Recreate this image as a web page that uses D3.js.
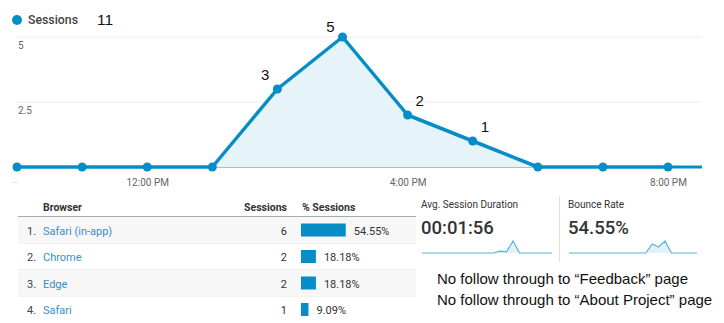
<!DOCTYPE html>
<html>
<head>
<meta charset="utf-8">
<script src="https://cdn.jsdelivr.net/npm/d3@7"></script>
<style>
  body { margin: 0; background: #fff; }
  svg { display: block; font-family: Roboto, "Open Sans", sans-serif; }
</style>
</head>
<body>
<div id="chart"></div>
<script>
// hourly sessions, 10 AM .. 8 PM
const hours = [10, 11, 12, 13, 14, 15, 16, 17, 18, 19, 20];
const sessions = [0, 0, 0, 0, 3, 5, 2, 1, 0, 0, 0];
const tickHours = [12, 16, 20];
const tickLabels = ['12:00 PM', '4:00 PM', '8:00 PM'];
const yTicks = [2.5, 5];

const browsers = ['Safari (in-app)', 'Chrome', 'Edge', 'Safari'];
const browserSessions = [6, 2, 2, 1];
const browserPct = [54.55, 18.18, 18.18, 9.09];

const durationSpark = [0, 0, 0, 0, 0, 0, 0, 0, 0, 0, 0, 0, 0.15, 0.1, 1, 0, 0, 0, 0, 0, 0];
const bounceSpark = [0, 0, 0, 0, 0, 0, 0, 0, 0, 0, 0, 0, 0, 0.75, 0.5, 1, 0, 0, 0, 0, 0];

const notes = ['No follow through to \u201cFeedback\u201d page', 'No follow through to \u201cAbout Project\u201d page'];

const W = 724, H = 323;
const blue = '#058dc7';

const svg = d3.select('#chart').append('svg')
  .attr('width', W)
  .attr('height', H);

// main line chart
const x = d3.scaleLinear().domain([10, 20]).range([17, 668]);
const y = d3.scaleLinear().domain([0, 5]).range([167, 37]);

// grid lines
svg.append('g')
  .selectAll('line')
  .data(yTicks)
  .join('line')
  .attr('x1', 16).attr('x2', 702)
  .attr('y1', d => y(d)).attr('y2', d => y(d))
  .attr('stroke', '#ececec');

svg.append('g')
  .selectAll('text')
  .data(yTicks)
  .join('text')
  .attr('x', 18)
  .attr('y', d => y(d) + 12)
  .attr('font-size', 10)
  .attr('fill', '#666')
  .text(d => d);

// x axis
const xAxis = d3.axisBottom(x)
  .tickValues(tickHours)
  .tickFormat((d, i) => tickLabels[i])
  .tickSize(0)
  .tickPadding(12);

const gx = svg.append('g')
  .attr('transform', `translate(0,${y(0)})`)
  .call(xAxis);
gx.select('.domain').attr('d', `M16,0H702`).attr('stroke', '#777');
gx.selectAll('text')
  .attr('font-family', 'Roboto, sans-serif')
  .attr('font-size', 10)
  .attr('fill', '#666');

svg.append('text')
  .attr('x', 12).attr('y', 183)
  .attr('font-size', 8)
  .attr('fill', '#aaa')
  .text('...');

const area = d3.area()
  .x((d, i) => x(hours[i]))
  .y0(y(0))
  .y1(d => y(d));

const line = d3.line()
  .x((d, i) => x(hours[i]))
  .y(d => y(d));

svg.append('path')
  .datum(sessions)
  .attr('d', area)
  .attr('fill', '#e6f4fa');

svg.append('line')
  .attr('x1', x(20)).attr('x2', 702)
  .attr('y1', y(0)).attr('y2', y(0))
  .attr('stroke', blue)
  .attr('stroke-width', 3);

svg.append('path')
  .datum(sessions)
  .attr('d', line)
  .attr('fill', 'none')
  .attr('stroke', blue)
  .attr('stroke-width', 3.5)
  .attr('stroke-linejoin', 'round');

svg.append('g')
  .selectAll('circle')
  .data(sessions)
  .join('circle')
  .attr('cx', (d, i) => x(hours[i]))
  .attr('cy', d => y(d))
  .attr('r', 4.5)
  .attr('fill', blue);

// value annotations
const peak = sessions.indexOf(d3.max(sessions));
svg.append('g')
  .selectAll('text')
  .data(sessions.map((v, i) => ({ v, i })).filter(d => d.v > 0))
  .join('text')
  .attr('x', d => d.i <= peak ? x(hours[d.i]) - 8 : x(hours[d.i]) + 8)
  .attr('y', d => d.i === peak ? y(d.v) - 5 : y(d.v) - 9)
  .attr('text-anchor', d => d.i <= peak ? 'end' : 'start')
  .attr('font-family', '"Liberation Sans", Arial, sans-serif')
  .attr('font-size', 15)
  .attr('fill', '#111')
  .text(d => d.v);

// legend
svg.append('circle')
  .attr('cx', 17).attr('cy', 20).attr('r', 5)
  .attr('fill', blue);
svg.append('text')
  .attr('x', 28).attr('y', 24)
  .attr('font-size', 12.3)
  .attr('font-weight', 500)
  .attr('fill', '#444')
  .text('Sessions');
svg.append('text')
  .attr('x', 97).attr('y', 25)
  .attr('font-family', '"Liberation Sans", Arial, sans-serif')
  .attr('font-size', 15.5)
  .attr('fill', '#111')
  .text(d3.sum(sessions));

// table
const tbl = svg.append('g');
const rowTop = 217, rowH = 26.5;
tbl.append('text').attr('x', 43).attr('y', 211)
  .attr('font-size', 10.5).attr('font-weight', 700).attr('fill', '#333').text('Browser');
tbl.append('text').attr('x', 287).attr('y', 211).attr('text-anchor', 'end')
  .attr('font-size', 10.5).attr('font-weight', 700).attr('fill', '#333').text('Sessions');
tbl.append('text').attr('x', 302).attr('y', 211)
  .attr('font-size', 10.5).attr('font-weight', 700).attr('fill', '#333').text('% Sessions');

const rows = tbl.selectAll('g.row')
  .data(browsers)
  .join('g')
  .attr('class', 'row')
  .attr('transform', (d, i) => `translate(0,${rowTop + i * rowH})`);

rows.append('rect')
  .attr('x', 18).attr('width', 398).attr('height', rowH)
  .attr('fill', (d, i) => i % 2 === 0 ? '#f7f7f7' : '#fff');
rows.append('line')
  .attr('x1', 18).attr('x2', 416)
  .attr('y1', rowH).attr('y2', rowH)
  .attr('stroke', (d, i) => i === browsers.length - 1 ? 'none' : '#e3e3e3');
rows.append('text')
  .attr('x', 27).attr('y', 17.5)
  .attr('font-size', 11).attr('fill', '#444')
  .text((d, i) => (i + 1) + '.');
rows.append('text')
  .attr('x', 43).attr('y', 17.5)
  .attr('font-size', 11).attr('fill', '#3a8dc8')
  .text(d => d);
rows.append('text')
  .attr('x', 287).attr('y', 17.5).attr('text-anchor', 'end')
  .attr('font-size', 11).attr('fill', '#333')
  .text((d, i) => browserSessions[i]);

const bx = d3.scaleLinear().domain([0, 100]).range([0, 82]);
rows.append('rect')
  .attr('x', 301).attr('y', 6.5)
  .attr('width', (d, i) => bx(browserPct[i]))
  .attr('height', 13)
  .attr('fill', blue);
rows.append('text')
  .attr('x', (d, i) => 301 + bx(browserPct[i]) + 8).attr('y', 17.5)
  .attr('font-size', 11).attr('fill', '#333')
  .text((d, i) => browserPct[i].toFixed(2) + '%');

tbl.append('line')
  .attr('x1', 18).attr('x2', 416)
  .attr('y1', rowTop - 0.5).attr('y2', rowTop - 0.5)
  .attr('stroke', '#aaa');

// scorecards
const cards = [
  { title: 'Avg. Session Duration', value: '00:01:56', spark: durationSpark, x0: 421, w: 131 },
  { title: 'Bounce Rate', value: '54.55%', spark: bounceSpark, x0: 568, w: 129 }
];

svg.append('line')
  .attr('x1', 559.5).attr('x2', 559.5)
  .attr('y1', 196).attr('y2', 262)
  .attr('stroke', '#e0e0e0');

cards.forEach(c => {
  const g = svg.append('g');
  g.append('text').attr('x', c.x0).attr('y', 208)
    .attr('font-size', 10).attr('fill', '#333').text(c.title);
  g.append('text').attr('x', c.x0).attr('y', 234)
    .attr('font-size', 18.5).attr('font-weight', 500).attr('fill', '#333').text(c.value);
  const sx = d3.scaleLinear().domain([0, c.spark.length - 1]).range([c.x0 + 1, c.x0 + c.w]);
  const sy = d3.scaleLinear().domain([0, 1]).range([253, 241]);
  g.append('path').datum(c.spark)
    .attr('d', d3.area().x((d, i) => sx(i)).y0(253).y1(d => sy(d)))
    .attr('fill', '#e3f2f9');
  g.append('path').datum(c.spark)
    .attr('d', d3.line().x((d, i) => sx(i)).y(d => sy(d)))
    .attr('fill', 'none')
    .attr('stroke', '#5ab4d6')
    .attr('stroke-width', 1.2);
});

// notes
svg.append('g')
  .selectAll('text')
  .data(notes)
  .join('text')
  .attr('x', 437)
  .attr('y', (d, i) => 284 + i * 21)
  .attr('font-family', '"Liberation Sans", Arial, sans-serif')
  .attr('font-size', 15)
  .attr('fill', '#111')
  .text(d => d);
</script>
</body>
</html>
